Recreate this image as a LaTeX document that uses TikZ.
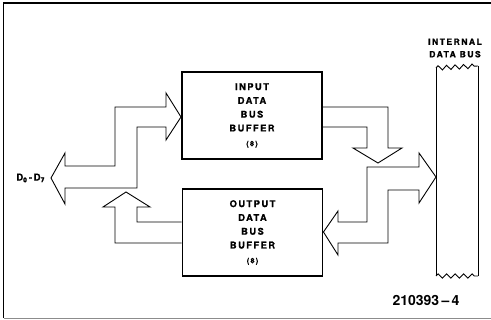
\documentclass[tikz,border=0pt]{standalone}
\usepackage{fontspec}
\setmainfont{TeX Gyre Heros}
\usetikzlibrary{decorations.pathmorphing}
\begin{document}
\begin{tikzpicture}[x=1pt,y=-1pt,
  bufbox/.style={draw,line width=1.9pt,minimum width=140pt,minimum height=87pt,inner sep=0pt,align=center,
    font=\bfseries\fontsize{9.3}{13.8}\selectfont\addfontfeature{LetterSpace=16,FakeBold=1}},
  eight/.style={font=\bfseries\fontsize{7.5}{9}\selectfont},
  busline/.style={line width=0.9pt,line join=miter},
  lbl/.style={font=\bfseries\fontsize{8.6}{12.5}\selectfont\addfontfeature{LetterSpace=17,FakeBold=1},inner sep=0pt,align=center},
  wavy/.style={line width=0.9pt,decorate,decoration={zigzag,segment length=8.5pt,amplitude=2.2pt}}]
\useasboundingbox (0,0) rectangle (491,320);
% frame
\draw[line width=1.5pt] (491,3) -- (3.5,3) -- (3.5,318);
\draw[line width=0.7pt,black!45] (3.5,318) -- (491,318);
% buffers
\node[bufbox] (in) at (252,115.5) {INPUT\\DATA\\BUS\\BUFFER\\[1pt]{\fontsize{7.5}{9}\selectfont\addfontfeature{FakeBold=0.3}(8)}};
\node[bufbox] (out) at (252.5,232.5) {OUTPUT\\DATA\\BUS\\BUFFER\\[1pt]{\fontsize{7.5}{9}\selectfont\addfontfeature{FakeBold=0.3}(8)}};
% internal data bus
\coordinate (ibtl) at (436,68);
\coordinate (ibtr) at (478,66);
\coordinate (ibbl) at (436,276);
\coordinate (ibbr) at (478,276);
\draw[busline] (ibtl) -- (ibbl);
\draw[busline] (ibtr) -- (ibbr);
\draw[wavy] (ibtl) -- (ibtr);
\draw[wavy] (ibbl) -- (ibbr);
\node[lbl] (ibl) at (455,48) {INTERNAL\\DATA BUS};
% D0-D7 bus to input buffer
\draw[busline] (166,107) -- (166,93) -- (181,117) -- (166,140) -- (166,127) -- (137,127)
  -- (137,188) -- (65,188) -- (65,204) -- (51,178) -- (65,153) -- (65,166) -- (115,166)
  -- (115,107) -- cycle;
\node[lbl,anchor=east,font=\bfseries\fontsize{9.5}{12}\selectfont\addfontfeature{FakeBold=1}] (dlbl) at (45,178) {D\textsubscript{0}\,-\,D\textsubscript{7}};
% output buffer to D bus
\draw[busline] (out.west |- 0,222) -- (137,222) -- (137,207) -- (150,207) -- (126,192)
  -- (103,207) -- (115,207) -- (115,243) -- (out.west |- 0,243);
% input buffer to internal bus
\draw[busline] (in.east |- 0,107) -- (388,107) -- (388,148) -- (402,148) -- (378,163)
  -- (353,148) -- (367,148) -- (367,127) -- (in.east |- 0,127);
% internal bus to/from output buffer
\draw[busline] (338,222) -- (367,222) -- (367,167) -- (419,167) -- (419,153) -- (ibtl |- 0,177)
  -- (419,203) -- (419,190) -- (388,190) -- (388,243) -- (338,243) -- (338,255)
  -- (out.east |- 0,232) -- (338,211) -- cycle;
% figure number
\node[font=\bfseries\fontsize{14}{16}\selectfont,inner sep=0pt] (fig) at (426,300) {210393\,–\,4};
\end{tikzpicture}
\end{document}
